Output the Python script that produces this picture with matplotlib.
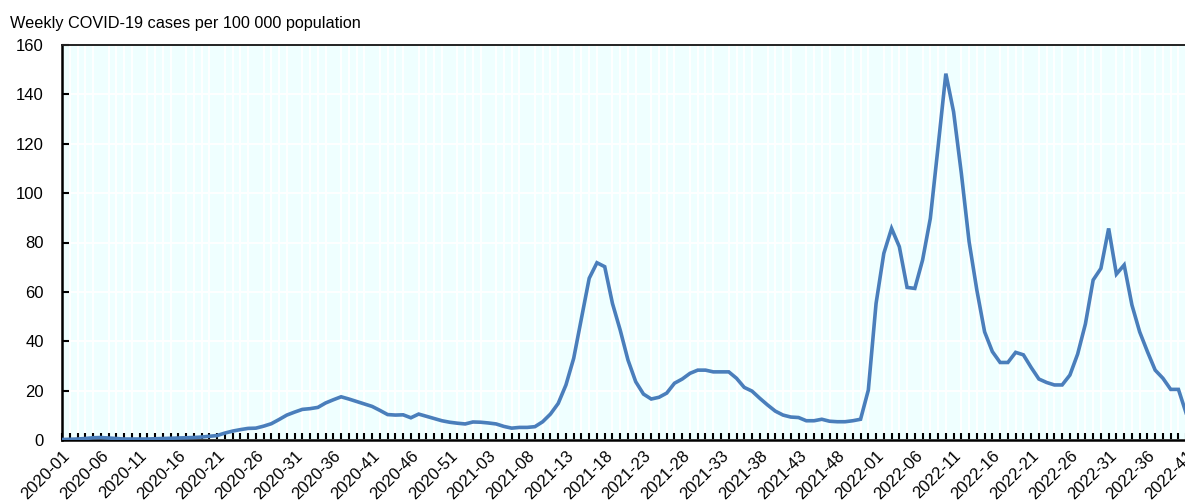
import numpy as np
import matplotlib.pyplot as plt
from matplotlib.ticker import MultipleLocator

# weekly categories: 2020 has 53 ISO weeks, 2021 has 52, data runs to 2022-41
weeks = ([f"2020-{w:02d}" for w in range(1, 54)]
         + [f"2021-{w:02d}" for w in range(1, 53)]
         + [f"2022-{w:02d}" for w in range(1, 42)])

cases_2020 = [0.2, 0.3, 0.4, 0.6, 0.9, 1.0, 0.8, 0.6, 0.4, 0.4,
              0.4, 0.4, 0.5, 0.6, 0.7, 0.8, 0.9, 1.0, 1.2, 1.5,
              1.8, 2.8, 3.6, 4.2, 4.7, 4.8, 5.6, 6.6, 8.3, 10.1,
              11.3, 12.4, 12.7, 13.2, 15.0, 16.3, 17.5, 16.6, 15.6, 14.6,
              13.6, 12.0, 10.3, 10.1, 10.2, 9.0, 10.5, 9.6, 8.7, 7.8,
              7.2, 6.8, 6.5]
cases_2021 = [7.3, 7.2, 6.9, 6.5, 5.5, 4.8, 5.1, 5.1, 5.4, 7.4,
              10.5, 14.8, 22.3, 33.1, 49.3, 65.5, 71.8, 70.2, 55.3, 44.5,
              32.4, 23.6, 18.6, 16.6, 17.3, 19.0, 23.0, 24.7, 27.0, 28.3,
              28.3, 27.6, 27.6, 27.6, 25.0, 21.3, 19.8, 16.9, 14.2, 11.7,
              10.1, 9.3, 9.1, 7.8, 7.8, 8.4, 7.6, 7.4, 7.4, 7.8,
              8.4, 20.2]
cases_2022 = [55.3, 75.6, 85.7, 78.3, 61.8, 61.4, 72.9, 89.8, 118.8, 148.4,
              132.9, 108.0, 80.3, 60.7, 43.8, 35.8, 31.4, 31.4, 35.5, 34.5,
              29.4, 24.7, 23.3, 22.3, 22.3, 26.3, 34.8, 47.0, 64.8, 69.5,
              85.7, 67.2, 70.9, 54.7, 43.8, 35.8, 28.3, 25.0, 20.5, 20.5,
              10.8]
cases = cases_2020 + cases_2021 + cases_2022

plt.rcParams['font.family'] = ['Liberation Sans', 'DejaVu Sans']

fig = plt.figure(figsize=(11.85, 5.01), dpi=100)
ax = fig.add_axes([62 / 1185, 61 / 501, 1 - 62 / 1185 + 0.001, 395 / 501])
ax.set_facecolor('#EFFFFF')

x = np.arange(len(cases))
ax.plot(x, cases, color='#4A7EBB', lw=2.6, solid_joinstyle='miter', zorder=3)

ax.set_xlim(0, len(cases) - 1)
ax.set_ylim(0, 160)
ax.yaxis.set_major_locator(MultipleLocator(20))

major = list(range(0, len(weeks), 5))
ax.set_xticks(major)
ax.set_xticklabels([weeks[i] for i in major], rotation=45, ha='right',
                   rotation_mode='anchor')
ax.set_xticks(x, minor=True)

ax.grid(True, axis='x', which='minor', color='white', lw=1.4, zorder=0)
ax.grid(True, axis='y', which='major', color='white', lw=1.4, zorder=0)
ax.set_axisbelow(True)

ax.tick_params(axis='x', which='both', direction='in', length=5, width=1.5,
               color='black', labelsize=12, pad=6)
ax.tick_params(axis='y', which='major', direction='in', length=5, width=1.5,
               color='black', labelsize=12, pad=13)

for side in ['left', 'bottom']:
    ax.spines[side].set_linewidth(1.8)
    ax.spines[side].set_color('black')
ax.spines['top'].set_linewidth(1.4)
ax.spines['top'].set_color('#222222')
ax.spines['right'].set_visible(False)

fig.text(10 / 1185, 1 - 28 / 501, 'Weekly COVID-19 cases per 100 000 population',
         fontsize=11.7, ha='left', va='baseline')

fig.savefig('out.png', dpi=100)
